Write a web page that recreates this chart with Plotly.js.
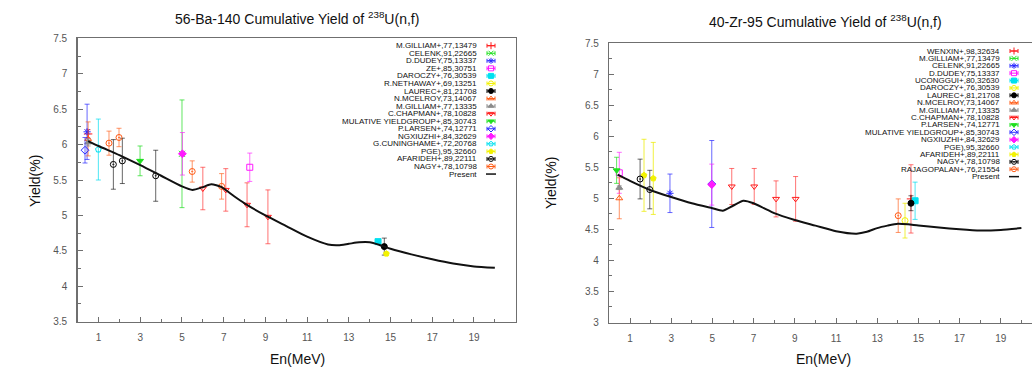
<!DOCTYPE html>
<html>
<head>
<meta charset="utf-8">
<script src="https://cdn.plot.ly/plotly-3.0.1.min.js"></script>
<style>html,body{margin:0;padding:0;background:#fff;}#chart{width:1032px;height:369px;}</style>
</head>
<body>
<div id="chart"></div>
<script>
// ---------- DATA ----------
// Left panel: 56-Ba-140 cumulative yield of 238U(n,f)
const leftNames = [
  "M.GILLIAM+,77,13479", "CELENK,91,22665", "D.DUDEY,75,13337", "ZE+,85,30751",
  "DAROCZY+,76,30539", "R.NETHAWAY+,69,13251", "LAUREC+,81,21708", "N.MCELROY,73,14067",
  "M.GILLIAM+,77,13335", "C.CHAPMAN+,78,10828", "MULATIVE YIELDGROUP+,85,30743",
  "P.LARSEN+,74,12771", "NGXIUZHI+,84,32629", "G.CUNINGHAME+,72,20768", "PGE),95,32660",
  "AFARIDEH+,89,22111", "NAGY+,78,10798"
];
const leftEnergy = [
  [0.5], [5.0], [0.45], [8.25],
  [14.4], [], [14.7], [0.5],
  [0.5], [6.0, 7.1, 8.12, 9.12], [2.99],
  [0.35], [5.02], [0.99], [14.8],
  [1.71, 2.14, 3.74], [1.5, 1.98, 5.49, 6.9]
];
const leftYield = [
  [6.15], [5.87], [6.18], [5.68],
  [4.63], [], [4.56], [6.08],
  [6.03], [5.38, 5.36, 5.15, 4.98], [5.77],
  [5.92], [5.87], [5.93], [4.46],
  [5.72, 5.77, 5.56], [6.02, 6.10, 5.62, 5.41]
];
const leftError = [
  [0.06], [0.76], [0.39], [0.2],
  [0.03], [], [0.12], [0.24],
  [0.05], [0.3, 0.3, 0.31, 0.38], [0.21],
  [0.18], [0.3], [0.43], [0.02],
  [0.35, 0.32, 0.36], [0.17, 0.13, 0.15, 0.18]
];
const leftCurveE = [0.5, 1, 2, 3, 4, 5, 5.5, 6, 6.4, 6.9, 7.5, 8, 9, 10, 11, 12, 12.5, 13, 13.5, 14, 14.5, 15, 16, 17, 18, 19, 20];
const leftCurveY = [6.05, 5.98, 5.85, 5.71, 5.56, 5.41, 5.36, 5.40, 5.44, 5.40, 5.27, 5.17, 5.00, 4.85, 4.70, 4.59, 4.58, 4.60, 4.62, 4.62, 4.58, 4.53, 4.45, 4.38, 4.32, 4.28, 4.26];

// Right panel: 40-Zr-95 cumulative yield of 238U(n,f)
const rightNames = [
  "WENXIN+,98,32634", "M.GILLIAM+,77,13479", "CELENK,91,22665", "D.DUDEY,75,13337",
  "UCONGGUI+,80,32630", "DAROCZY+,76,30539", "LAUREC+,81,21708", "N.MCELROY,73,14067",
  "M.GILLIAM+,77,13335", "C.CHAPMAN+,78,10828", "P.LARSEN+,74,12771",
  "MULATIVE YIELDGROUP+,85,30743", "NGXIUZHI+,84,32629", "PGE),95,32660",
  "AFARIDEH+,89,22111", "NAGY+,78,10798", "RAJAGOPALAN+,76,21554"
];
const rightEnergy = [
  [14.64], [], [2.94], [0.48],
  [14.84], [14.35], [14.64], [0.48],
  [0.48], [5.94, 7.03, 8.09, 9.04], [0.35],
  [4.97], [4.97], [],
  [1.68, 2.13], [1.49, 1.96], [14.02]
];
const rightYield = [
  [4.99], [], [5.08], [5.41],
  [4.96], [4.64], [4.92], [5.0],
  [5.17], [5.19, 5.19, 4.99, 4.99], [5.45],
  [5.23], [5.22], [],
  [5.37, 5.32], [5.31, 5.14], [4.72]
];
const rightError = [
  [0.55], [], [0.31], [0.33],
  [0.3], [0.28], [0.12], [0.33],
  [0.03], [0.29, 0.29, 0.29, 0.36], [0.21],
  [0.7], [0.33], [],
  [0.58, 0.58], [0.32, 0.31], [0.27]
];
const rightCurveE = [0.4, 1, 2, 3, 4, 5, 5.5, 6, 6.5, 7, 7.5, 8, 9, 10, 11, 12, 12.5, 13, 13.5, 14, 14.5, 15, 16, 17, 18, 19, 20];
const rightCurveY = [5.38, 5.28, 5.13, 5.02, 4.92, 4.84, 4.80, 4.88, 4.96, 4.92, 4.84, 4.76, 4.65, 4.56, 4.47, 4.43, 4.46, 4.52, 4.56, 4.59, 4.58, 4.56, 4.53, 4.50, 4.48, 4.49, 4.52];

const xTickVals = [1, 3, 5, 7, 9, 11, 13, 15, 17, 19];
const presentName = "Present";

// ---------- STYLES ----------
const palette = ['#ff1a1a', '#1ee01e', '#2a2aff', '#ff1aff', '#00e0f0', '#f2f200', '#000000', '#ff5a14', '#8c8c8c'];
const barPalette = ['rgba(255,40,40,0.65)', 'rgba(30,220,30,0.7)', 'rgba(40,40,255,0.7)', 'rgba(255,30,255,0.65)', 'rgba(0,220,240,0.7)', 'rgba(235,235,0,0.75)', 'rgba(0,0,0,0.6)', 'rgba(255,90,20,0.65)', 'rgba(130,130,130,0.7)'];
const symbols = ['cross-thin-open', 'x-thin-open', 'asterisk-open', 'square-open', 'square', 'circle-open',
  'circle', 'triangle-up-open', 'triangle-up', 'triangle-down-open', 'triangle-down', 'diamond-open',
  'diamond', 'pentagon-open', 'pentagon', 'circle-open-dot', 'circle-open-dot'];
const FONT = 'Liberation Sans, Arial, Helvetica, sans-serif';
const W = 1032, H = 369;

const traces = [];
const annotations = [];

function addPanel(names, E, Y, ERR, cE, cY, xa, ya, leg) {
  names.forEach((nm, i) => {
    const col = palette[i % palette.length];
    const bcol = barPalette[i % barPalette.length];
    const open = symbols[i].indexOf('open') >= 0;
    const mk = {symbol: symbols[i], size: 6, color: col, line: {color: col, width: 1}};
    traces.push({
      type: 'scatter', mode: 'markers', name: nm, x: E[i], y: Y[i], xaxis: xa, yaxis: ya,
      marker: mk,
      error_y: {type: 'data', array: ERR[i], visible: true, color: bcol, thickness: 1, width: 2.5},
      showlegend: false
    });
    // legend key
    const ky = leg.y0 + i * leg.dy;
    traces.push({
      type: 'scatter', mode: 'markers', x: [leg.kx], y: [ky], xaxis: 'x3', yaxis: 'y3',
      marker: {symbol: symbols[i], size: 5, color: col, line: {color: col, width: 1}},
      error_x: {type: 'constant', value: 4, visible: true, color: col, thickness: 1, width: 2},
      showlegend: false, hoverinfo: 'skip'
    });
    annotations.push({xref: 'x3', yref: 'y3', x: leg.tx, y: ky, text: nm, showarrow: false,
      xanchor: 'right', yanchor: 'middle', font: {family: FONT, size: 8, color: '#111'}});
  });
  traces.push({
    type: 'scatter', mode: 'lines', name: presentName, x: cE, y: cY, xaxis: xa, yaxis: ya,
    line: {color: '#111', width: 2, shape: 'spline', smoothing: 0.6}, showlegend: false
  });
  const py = leg.y0 + names.length * leg.dy;
  traces.push({
    type: 'scatter', mode: 'lines', x: [leg.kx - 5, leg.kx + 5], y: [py, py], xaxis: 'x3', yaxis: 'y3',
    line: {color: '#111', width: 1.5}, showlegend: false, hoverinfo: 'skip'
  });
  annotations.push({xref: 'x3', yref: 'y3', x: leg.tx, y: py, text: presentName, showarrow: false,
    xanchor: 'right', yanchor: 'middle', font: {family: FONT, size: 8, color: '#111'}});
}

addPanel(leftNames, leftEnergy, leftYield, leftError, leftCurveE, leftCurveY, 'x', 'y',
  {kx: 491, tx: 478.5, y0: 45.7, dy: 7.55});
addPanel(rightNames, rightEnergy, rightYield, rightError, rightCurveE, rightCurveY, 'x2', 'y2',
  {kx: 1014, tx: 1002, y0: 51, dy: 7.39});

// titles (pixel coords on overlay axes)
const titleSpecs = [
  {x: 297, y: 18, text: '56-Ba-140 Cumulative Yield of <sup>238</sup>U(n,f)', size: 14},
  {x: 825, y: 21, text: '40-Zr-95 Cumulative Yield of <sup>238</sup>U(n,f)', size: 14},
  {x: 297, y: 359, text: 'En(MeV)', size: 14},
  {x: 823, y: 359, text: 'En(MeV)', size: 14}
];
titleSpecs.forEach(t => annotations.push({xref: 'x3', yref: 'y3', x: t.x, y: t.y, text: t.text,
  showarrow: false, xanchor: 'center', yanchor: 'middle', font: {family: FONT, size: t.size, color: '#111'}}));
[{x: 35, y: 181}, {x: 551, y: 183}].forEach(t => annotations.push({xref: 'x3', yref: 'y3', x: t.x, y: t.y,
  text: 'Yield(%)', textangle: -90, showarrow: false, xanchor: 'center', yanchor: 'middle',
  font: {family: FONT, size: 14, color: '#111'}}));

const axCol = '#6f6f6f';
function xAxis(domain, range, anchor, mirror) {
  return {domain, range, anchor, tickmode: 'array', tickvals: xTickVals, ticktext: xTickVals.map(String),
    ticks: 'inside', ticklen: 5, tickwidth: 1, tickcolor: axCol,
    minor: {tickmode: 'linear', tick0: 0, dtick: 1, ticks: 'inside', ticklen: 3, tickcolor: axCol, showgrid: false},
    showline: true, linecolor: axCol, linewidth: 1.5, mirror, showgrid: false, zeroline: false,
    ticklabelstandoff: 6, tickfont: {family: FONT, size: 10, color: '#555'}, fixedrange: true};
}
function yAxis(domain, range, anchor, mirror) {
  return {domain, range, anchor, tickmode: 'linear', tick0: range[0], dtick: 0.5,
    ticks: 'inside', ticklen: 5, tickwidth: 1, tickcolor: axCol,
    minor: {tickmode: 'linear', tick0: range[0], dtick: 0.25, ticks: 'inside', ticklen: 3, tickcolor: axCol, showgrid: false},
    showline: true, linecolor: axCol, linewidth: 1.5, mirror, showgrid: false, zeroline: false,
    ticklabelstandoff: 7, tickfont: {family: FONT, size: 10, color: '#555'}, fixedrange: true};
}

const layout = {
  width: W, height: H, margin: {l: 0, r: 0, t: 0, b: 0},
  paper_bgcolor: '#fff', plot_bgcolor: 'rgba(0,0,0,0)', showlegend: false,
  font: {family: FONT},
  xaxis: xAxis([77.7 / W, 515.7 / W], [0, 21], 'y', true),
  yaxis: yAxis([1 - 321.7 / H, 1 - 38.3 / H], [3.5, 7.5], 'x', true),
  xaxis2: xAxis([609.4 / W, 1], [0, (W - 609.4) / 20.6], 'y2', true),
  yaxis2: yAxis([1 - 322.5 / H, 1 - 43 / H], [3, 7.5], 'x2', false),
  xaxis3: {domain: [0, 1], range: [0, W], anchor: 'y3', visible: false, fixedrange: true},
  yaxis3: {domain: [0, 1], range: [H, 0], anchor: 'x3', visible: false, fixedrange: true},
  annotations
};

Plotly.newPlot('chart', traces, layout, {staticPlot: true, displayModeBar: false});
</script>
</body>
</html>
